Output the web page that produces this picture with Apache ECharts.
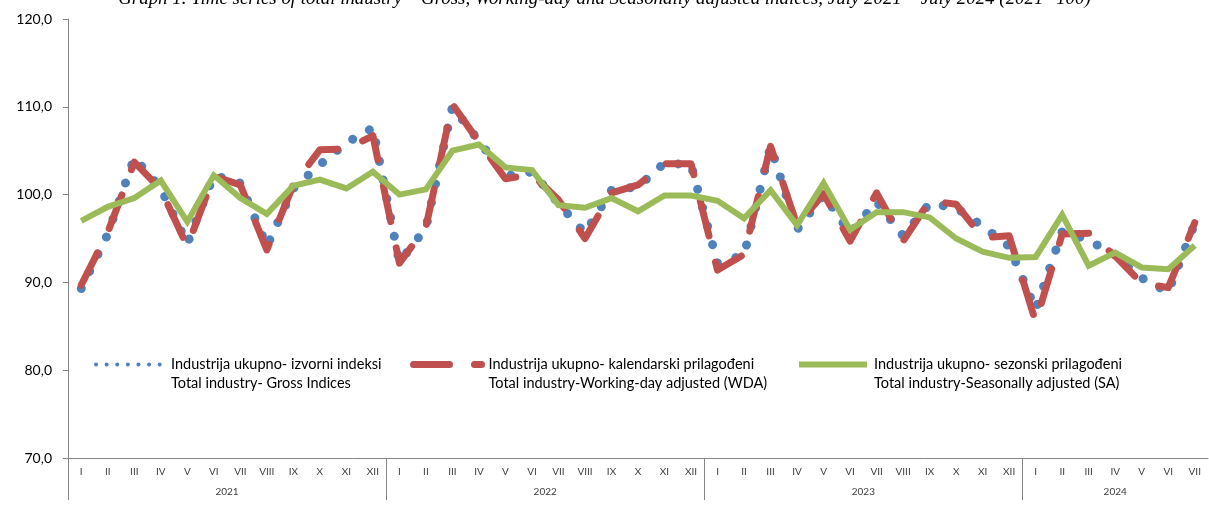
<!DOCTYPE html>
<html>
<head>
<meta charset="utf-8">
<title>Industrija ukupno</title>
<script src="https://cdn.jsdelivr.net/npm/echarts@6/dist/echarts.min.js"></script>
<style>
  html, body { margin: 0; padding: 0; background: #fff; }
  #chart { width: 1209px; height: 513px; }
</style>
</head>
<body>
<div id="chart"></div>
<script>
// months, 2021 I .. 2024 VII
const roman = ["I", "II", "III", "IV", "V", "VI", "VII", "VIII", "IX", "X", "XI", "XII"];
const months = [].concat(roman, roman, roman, roman.slice(0, 7));
const years = ["2021", "2022", "2023", "2024"];
const yearTicks = [0, 12, 24, 36];
const yearLabelAt = [6, 18, 30, 39.5];

const seriesNames = [
   "Industrija ukupno- izvorni indeksi\nTotal industry- Gross Indices",
   "Industrija ukupno- kalendarski prilagođeni\nTotal industry-Working-day adjusted (WDA)",
   "Industrija ukupno- sezonski prilagođeni\nTotal industry-Seasonally adjusted (SA)",
];

// gross indices
const gross = [
   89.3, 95.5, 104.2, 100.7, 94.4, 102.2, 101.3, 94.1, 100.7, 103.4, 105.9, 107.6,
   92.3, 96.2, 110.0, 106.1, 102.1, 102.6, 99.0, 95.6, 100.5, 100.9, 103.6, 103.4,
   92.2, 93.1, 105.5, 96.0, 100.0, 95.6, 99.2, 95.3, 99.0, 98.5, 96.4, 94.1,
   86.9, 95.8, 94.8, 93.1, 90.5, 88.9, 96.7,
];
// working-day adjusted
const wda = [
   89.7, 95.7, 103.7, 100.6, 94.1, 102.1, 101.1, 93.7, 101.1, 105.1, 105.2, 106.7,
   92.2, 96.3, 110.3, 106.0, 101.8, 102.3, 99.4, 95.0, 100.2, 101.1, 103.5, 103.5,
   91.4, 93.2, 105.5, 96.5, 100.1, 94.7, 100.2, 94.7, 99.3, 98.9, 95.1, 95.3,
   85.5, 95.5, 95.6, 93.0, 89.9, 89.4, 96.8,
];
// seasonally adjusted
const sa = [
   97.0, 98.6, 99.6, 101.6, 96.9, 102.2, 99.6, 97.8, 101.0, 101.7, 100.7, 102.6,
   100.0, 100.6, 105.0, 105.7, 103.1, 102.8, 98.8, 98.5, 99.6, 98.1, 99.9, 99.9,
   99.3, 97.3, 100.5, 96.5, 101.3, 96.0, 98.0, 98.0, 97.4, 95.0, 93.5, 92.8,
   92.9, 97.7, 91.9, 93.4, 91.7, 91.5, 94.2,
];

const axisColor = "#868686";
const textColor = "#404040";
const font = "Lato, 'Liberation Sans', sans-serif";

const chart = echarts.init(document.getElementById("chart"));

function legendFor(name, left, lineStyle) {
   return {
      data: [{
         name: name,
         lineStyle: lineStyle,
         // hide the circle that line legends draw by default
         itemStyle: { color: "rgba(0,0,0,0)", borderWidth: 0, opacity: 0 },
      }],
      // empty first line so the icon sits beside the first text line
      formatter: (n) => "\n" + n,
      left: left,
      top: 336,
      padding: 0,
      itemWidth: 68,
      itemHeight: 14,
      textStyle: {
         fontSize: 14.5,
         lineHeight: 19,
         color: "#000",
         fontFamily: font,
         padding: [0, 0, 0, 2],
      },
   };
}

chart.setOption({
   animation: false,
   title: {
      text: "Graph 1. Time series of total industry – Gross, Working-day and Seasonally adjusted indices, July 2021 – July 2024 (2021=100)",
      left: "center",
      top: -10,
      padding: 0,
      textStyle: {
         fontSize: 18.9,
         fontStyle: "italic",
         fontWeight: "normal",
         fontFamily: "'Liberation Serif', serif",
         color: "#000",
      },
   },
   grid: {
      left: 68,
      right: 1,
      top: 19,
      bottom: 55,
   },
   legend: [
      legendFor(seriesNames[0], 94, { width: 4, type: [0.1, 10.5], cap: "round" }),
      legendFor(seriesNames[1], 410, { width: 7, type: [36, 25], cap: "round" }),
      legendFor(seriesNames[2], 796, { width: 6 }),
   ],
   xAxis: [
      {
         type: "category",
         data: months,
         boundaryGap: true,
         axisLine: { lineStyle: { color: axisColor } },
         axisTick: { interval: 0, length: 21, lineStyle: { color: axisColor } },
         axisLabel: { interval: 0, fontSize: 10, margin: 9, color: textColor, fontFamily: font },
      },
      {
         type: "value",
         position: "bottom",
         min: 0,
         max: 43,
         axisLine: { show: false },
         splitLine: { show: false },
         axisTick: { show: true, length: 42, customValues: yearTicks, lineStyle: { color: axisColor } },
         axisLabel: {
            customValues: yearLabelAt,
            margin: 29,
            fontSize: 10,
            color: textColor,
            fontFamily: font,
            formatter: (v) => years[yearLabelAt.indexOf(v)],
         },
      },
   ],
   yAxis: {
      type: "value",
      min: 70,
      max: 120,
      interval: 10,
      axisLine: { show: true, lineStyle: { color: axisColor } },
      axisTick: { show: true, length: 5, lineStyle: { color: axisColor } },
      splitLine: { show: false },
      axisLabel: {
         fontSize: 14,
         margin: 16,
         color: "#000",
         fontFamily: font,
         formatter: (v) => v.toFixed(1).replace(".", ","),
      },
   },
   series: [
      {
         name: seriesNames[0],
         type: "line",
         data: gross,
         symbol: "none",
         itemStyle: { color: "#4F81BD" },
         lineStyle: { color: "#4F81BD", width: 9, type: [0.1, 19], cap: "round" },
      },
      {
         name: seriesNames[1],
         type: "line",
         data: wda,
         symbol: "none",
         itemStyle: { color: "#C0504D" },
         lineStyle: { color: "#C0504D", width: 7, type: [36, 27], cap: "round", join: "round" },
      },
      {
         name: seriesNames[2],
         type: "line",
         data: sa,
         symbol: "none",
         itemStyle: { color: "#9BBB59" },
         lineStyle: { color: "#9BBB59", width: 6, join: "miter" },
      },
   ],
});
</script>
</body>
</html>
